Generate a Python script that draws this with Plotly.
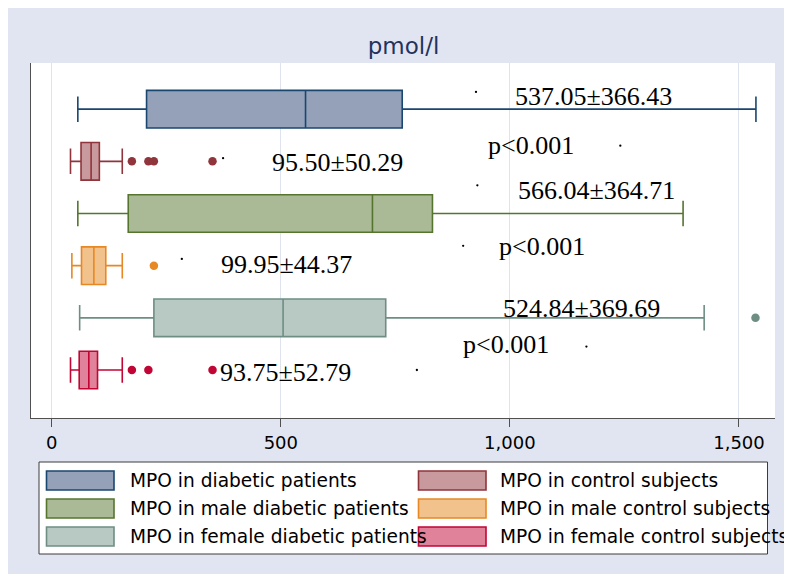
import plotly.graph_objects as go

# ---------------- data ----------------
groups = ["MPO in diabetic patients", "MPO in control subjects",
          "MPO in male diabetic patients", "MPO in male control subjects",
          "MPO in female diabetic patients", "MPO in female control subjects"]
lower_whisker = [57, 41, 57, 44, 61, 41]
q1_vals = [207, 64, 167, 65, 223, 60]
median_vals = [554, 86, 700, 92, 505, 81]
q3_vals = [765, 104, 831, 118, 729, 100]
upper_whisker = [1537, 154, 1378, 154, 1424, 154]
outliers = [[], [175, 211, 223, 351], [], [223], [1536], [175, 211, 351]]

line_colors = ["rgb(26,71,111)", "rgb(144,53,59)", "rgb(85,117,47)",
               "rgb(232,136,36)", "rgb(110,142,132)", "rgb(193,5,52)"]
fill_colors = ["rgb(148,161,184)", "rgb(200,153,157)", "rgb(170,186,151)",
               "rgb(242,194,140)", "rgb(184,200,194)", "rgb(224,131,154)"]

stat_labels = ["537.05±366.43", "p<0.001", "95.50±50.29", "566.04±364.71", "p<0.001",
               "99.95±44.37", "524.84±369.69", "p<0.001", "93.75±52.79"]
label_x = [1182, 1045, 624, 1188, 1070, 512, 1157, 991, 510]
label_y = [-0.24, 0.69, 1.02, 1.56, 2.63, 2.97, 3.83, 4.51, 5.04]

dot_x = [926, 1241, 374, 929, 898, 284, 1585, 1167, 797]
dot_y = [-0.33, 0.70, 0.94, 1.46, 2.62, 2.87, 3.77, 4.55, 5.0]

tick_vals = [0, 500, 1000, 1500]

# ---------------- figure ----------------
OFF = 8                      # page body margin
W, H = 784, 566
ML, MR, MT, MB = 23, 17, 55, 156
PW, PH = W - ML - MR, H - MT - MB


def px_x(px):  # screen pixel -> paper x
    return (px - OFF - ML) / PW


def px_y(py):  # screen pixel -> paper y
    return (H - MB - (py - OFF)) / PH


fig = go.Figure()
positions = list(range(len(groups)))

for i, g in enumerate(groups):
    fig.add_trace(go.Box(
        y=[positions[i]], q1=[q1_vals[i]], median=[median_vals[i]], q3=[q3_vals[i]],
        lowerfence=[lower_whisker[i]], upperfence=[upper_whisker[i]],
        orientation="h", name=g, width=0.72, whiskerwidth=0.68,
        fillcolor=fill_colors[i], line=dict(color=line_colors[i], width=1.6),
        boxpoints=False, showlegend=False, hoverinfo="skip"))
    if outliers[i]:
        fig.add_trace(go.Scatter(
            x=outliers[i], y=[positions[i]] * len(outliers[i]), mode="markers",
            marker=dict(color=line_colors[i], size=8.5, line=dict(width=0)),
            showlegend=False, hoverinfo="skip", cliponaxis=False))

fig.add_trace(go.Scatter(x=dot_x, y=dot_y, mode="markers",
                         marker=dict(color="black", size=2.3, line=dict(width=0)),
                         showlegend=False, hoverinfo="skip", cliponaxis=False))

for t, x, y in zip(stat_labels, label_x, label_y):
    fig.add_annotation(x=x, y=y, xref="x", yref="y", text=t, showarrow=False,
                       font=dict(family="Liberation Serif", size=26, color="black"),
                       xanchor="center", yanchor="middle")

# legend (manual, two columns)
fig.add_shape(type="rect", xref="paper", yref="paper", x0=px_x(39), x1=px_x(767.5),
              y0=px_y(554), y1=px_y(462), fillcolor="white",
              line=dict(color="rgb(60,60,60)", width=1))
col_sw = [46.5, 418.5]
col_tx = [127.5, 498]
row_cy = [480.5, 508.5, 536.5]
for i, g in enumerate(groups):
    c = i % 2
    r = i // 2
    fig.add_shape(type="rect", xref="paper", yref="paper",
                  x0=px_x(col_sw[c]), x1=px_x(col_sw[c] + 67.5),
                  y0=px_y(row_cy[r] + 9.5), y1=px_y(row_cy[r] - 9.5),
                  fillcolor=fill_colors[i], line=dict(color=line_colors[i], width=1.6))
    fig.add_annotation(xref="paper", yref="paper", x=px_x(col_tx[c]), y=px_y(row_cy[r]),
                       text=g, showarrow=False, xanchor="left", yanchor="middle",
                       font=dict(family="DejaVu Sans", size=18.6, color="black"))

bg = "rgb(225,229,241)"
fig.update_layout(
    width=W, height=H,
    margin=dict(l=ML, r=MR, t=MT, b=MB, pad=0),
    paper_bgcolor=bg, plot_bgcolor="white",
    title=dict(text="pmol/l", x=(403.5 - OFF) / W, xanchor="center",
               y=1 - (46 - OFF) / H, yanchor="middle", yref="container", xref="container",
               font=dict(family="DejaVu Sans", size=23, color="rgb(30,52,96)")),
    showlegend=False,
    xaxis=dict(range=[-45.2, 1578.6], tickvals=tick_vals, tickformat=",d",
               showgrid=True, gridcolor="rgb(222,227,238)", gridwidth=1.2,
               zeroline=False, showline=True, linecolor="rgb(80,80,80)", linewidth=1.3,
               ticks="outside", ticklen=8, tickwidth=1.2, tickcolor="rgb(80,80,80)",
               tickfont=dict(family="DejaVu Sans", size=18, color="black"),
               mirror=False),
    yaxis=dict(range=[5.92, -0.885], showticklabels=False, showgrid=False,
               zeroline=False, showline=True, linecolor="rgb(80,80,80)", linewidth=1.3,
               ticks=""),
)

fig.write_html("out.html")
